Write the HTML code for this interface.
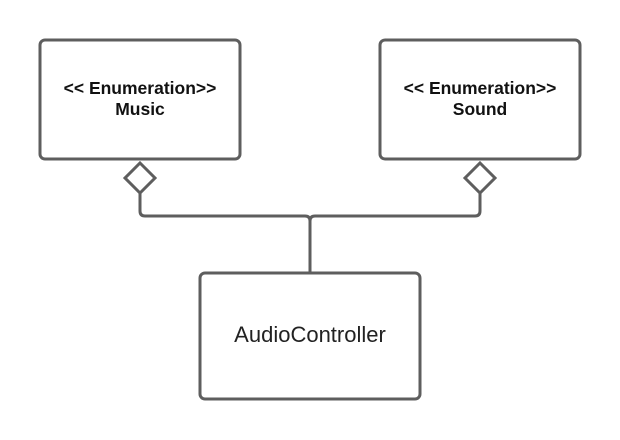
<!DOCTYPE html>
<html><head><meta charset="utf-8"><style>
html,body{margin:0;padding:0;background:#fff;}
svg{display:block;}
</style></head><body>
<svg width="620" height="440" viewBox="0 0 620 440" xmlns="http://www.w3.org/2000/svg">
<g fill="#fff" stroke="#5e5e5e" stroke-width="3">
<rect x="40" y="40" width="200" height="119" rx="5"/>
<rect x="380" y="40" width="200" height="119" rx="5"/>
<rect x="200" y="273" width="220" height="126" rx="5"/>
<path d="M140 163 L155 178 L140 193 L125 178 Z"/>
<path d="M480 163 L495 178 L480 193 L465 178 Z"/>
<path d="M140 193 V211 Q140 216 145 216 H305 Q310 216 310 221 V273" fill="none"/>
<path d="M480 193 V211 Q480 216 475 216 H315 Q310 216 310 221" fill="none"/>
</g>
<g font-family="Liberation Sans, sans-serif" text-anchor="middle" fill="#111">
<text x="140" y="94" font-size="17.5" font-weight="bold">&lt;&lt; Enumeration&gt;&gt;</text>
<text x="140" y="115" font-size="17.5" font-weight="bold">Music</text>
<text x="480" y="94" font-size="17.5" font-weight="bold">&lt;&lt; Enumeration&gt;&gt;</text>
<text x="480" y="115" font-size="17.5" font-weight="bold">Sound</text>
<text x="310" y="342" font-size="22" fill="#222">AudioController</text>
</g>
</svg>
</body></html>
